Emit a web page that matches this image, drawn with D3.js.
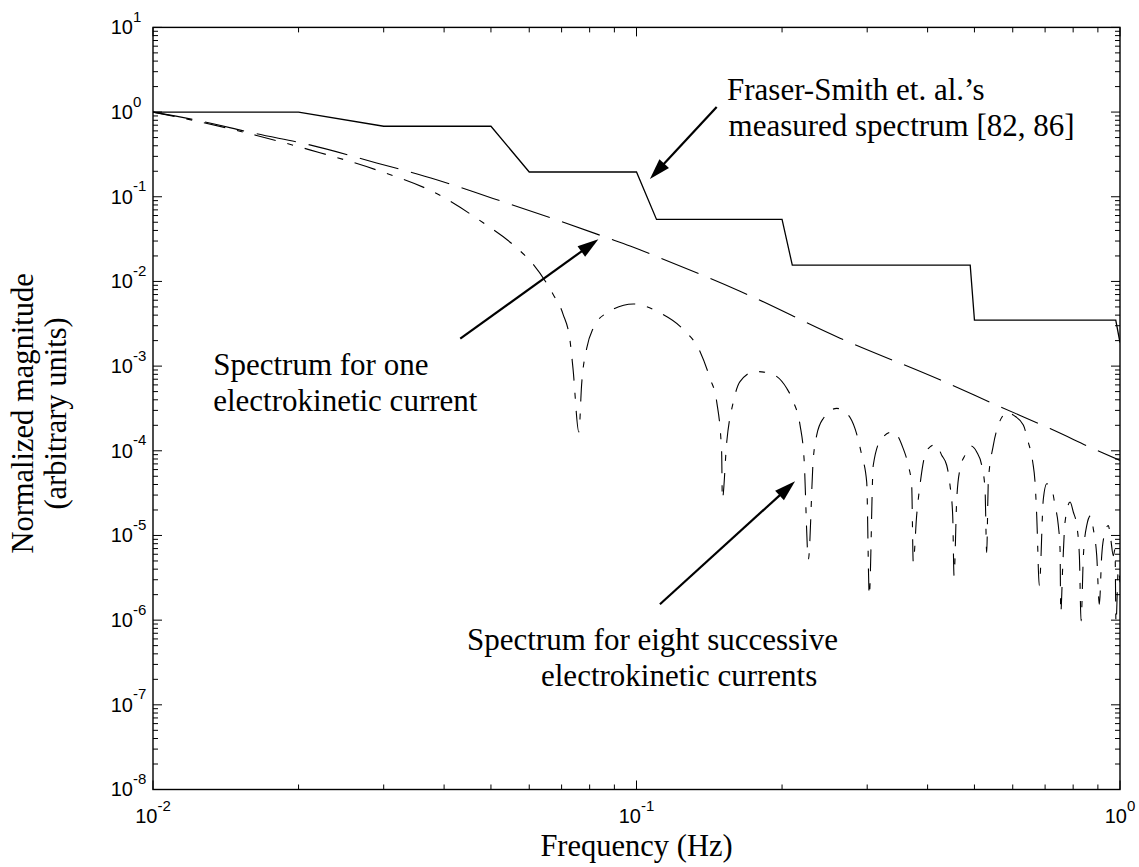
<!DOCTYPE html>
<html>
<head>
<meta charset="utf-8">
<script src="https://cdn.jsdelivr.net/npm/d3@7"></script>
<style>
  html, body { margin: 0; padding: 0; background: #fff; }
  svg { display: block; }
</style>
</head>
<body>
<svg id="chart" width="1139" height="867"></svg>
<script>
// Measured spectrum (stepped envelope)
const fraserFreq = [0.01, 0.02, 0.03, 0.05, 0.06, 0.1, 0.11, 0.2, 0.21, 0.49, 0.5, 0.98, 1.0];
const fraserMag  = [1.0, 1.0, 0.68, 0.68, 0.196, 0.196, 0.054, 0.054, 0.0156, 0.0156, 0.0035, 0.0035, 0.0019];

// Spectrum of a single electrokinetic current
const oneFreq = [0.01, 0.0121, 0.01638, 0.0211, 0.029, 0.0386, 0.0505, 0.0663, 0.0868, 0.097,
                 0.1118, 0.1637, 0.2636, 0.4243, 0.5647, 0.7165, 0.9223, 1.0];
const oneMag  = [1, 0.819, 0.554, 0.41, 0.251, 0.159, 0.0955, 0.0568, 0.0329, 0.0262,
                 0.019, 0.00767, 0.00214, 6.88e-4, 3.32e-4, 1.83e-4, 9.4e-5, 7.7e-5];

// Spectrum of eight successive electrokinetic currents
const eightFreq = [
  0.01, 0.0121, 0.01638, 0.0211, 0.029, 0.0386, 0.0481, 0.0565, 0.0611, 0.0672, 0.0705, 0.0729, 0.0739, 0.076,
  0.077, 0.0789, 0.0814, 0.0868, 0.0985, 0.1118, 0.125, 0.1353, 0.1419, 0.1465, 0.150, 0.1505,
  0.1537, 0.1586, 0.1637, 0.1758, 0.1888, 0.2045, 0.2111, 0.2179, 0.2221, 0.2267,
  0.2321, 0.2359, 0.2434, 0.2595, 0.2743, 0.2831, 0.2923, 0.2993, 0.303,
  0.3088, 0.3214, 0.3397, 0.3562, 0.3648, 0.3708, 0.3736,
  0.3797, 0.3857, 0.395, 0.4046, 0.4164, 0.4278, 0.4381, 0.4451, 0.4508, 0.4537,
  0.4596, 0.4669, 0.478, 0.4912, 0.5054, 0.5176, 0.5258, 0.53,
  0.5341, 0.547, 0.5602, 0.5737, 0.5848, 0.6017, 0.631, 0.6458, 0.6599, 0.6672, 0.6726, 0.681,
  0.6942, 0.7055, 0.7225, 0.7339, 0.7455, 0.7516, 0.7542, 0.7614, 0.7697, 0.7884, 0.8009, 0.8139,
  0.8241, 0.8308, 0.84, 0.8534, 0.8699, 0.8808, 0.8951, 0.9063, 0.9166, 0.9311, 0.9458, 0.9568,
  0.9687, 0.9766, 0.9811, 0.992, 1.0
];
const eightMag = [
  1, 0.80, 0.53, 0.358, 0.207, 0.109, 0.0496, 0.025, 0.016, 0.00706, 0.00409, 0.00196, 9.4e-4, 1.67e-4,
  6.05e-4, 1.63e-3, 2.82e-3, 4.25e-3, 5.42e-3, 4.25e-3, 2.7e-3, 1.49e-3, 7.18e-4, 3.8e-4, 9.7e-5, 2.69e-5,
  1.28e-4, 3.8e-4, 6.56e-4, 8.63e-4, 8.24e-4, 5.47e-4, 3.8e-4, 2.01e-4, 8.08e-5, 5.26e-6,
  8.08e-5, 1.53e-4, 2.41e-4, 3.17e-4, 2.64e-4, 1.83e-4, 8.87e-5, 4.28e-5, 1.94e-6,
  6.75e-5, 1.4e-4, 1.68e-4, 1.06e-4, 6.75e-5, 3.91e-5, 4.81e-6,
  1.72e-5, 3.91e-5, 8.87e-5, 1.11e-4, 1.19e-4, 8.87e-5, 6.75e-5, 3.91e-5, 1.72e-5, 3.34e-6,
  2.71e-5, 6.15e-5, 8.87e-5, 1.14e-4, 9.7e-5, 6.75e-5, 3.56e-5, 6.32e-6,
  4.28e-5, 1.16e-4, 2.01e-4, 2.64e-4, 2.89e-4, 2.64e-4, 2.01e-4, 1.28e-4, 7.38e-5, 4.28e-5, 1.72e-5, 2.55e-6,
  2.71e-5, 4.08e-5, 3.56e-5, 2.26e-5, 1.31e-5, 6.92e-6, 1.23e-6, 4.4e-6, 1.44e-5, 2.48e-5, 1.88e-5, 1.31e-5,
  5.78e-6, 9.8e-7, 5.78e-6, 1.31e-5, 1.72e-5, 1.19e-5, 5.78e-6, 1.54e-6, 5.78e-6, 1.09e-5, 1.31e-5, 9.08e-6,
  5.78e-6, 6.92e-6, 9.3e-7, 4.0e-6, 2.8e-6
];

// Axis tick decades
const xDecades = [-2, -1, 0];
const yDecades = [-8, -7, -6, -5, -4, -3, -2, -1, 0, 1];

const svg = d3.select("#chart");
const plotLeft = 153, plotRight = 1120, plotTop = 27.4, plotBottom = 789.5;

const x = d3.scaleLog().domain([0.01, 1]).range([plotLeft, plotRight]);
const y = d3.scaleLog().domain([1e-8, 10]).range([plotBottom, plotTop]);

// Clip for the plotted curves
svg.append("defs").append("clipPath").attr("id", "plotClip")
  .append("rect").attr("x", plotLeft).attr("y", plotTop)
  .attr("width", plotRight - plotLeft).attr("height", plotBottom - plotTop);

const zip = (fs, ms) => fs.map((f, i) => [f, ms[i]]);
const line = d3.line().x(d => x(d[0])).y(d => y(d[1]));
const smooth = d3.line().x(d => x(d[0])).y(d => y(d[1])).curve(d3.curveMonotoneX);

const plot = svg.append("g").attr("clip-path", "url(#plotClip)");

plot.append("path").datum(zip(fraserFreq, fraserMag))
  .attr("d", line).attr("fill", "none").attr("stroke", "#000").attr("stroke-width", 1.3);

plot.append("path").datum(zip(oneFreq, oneMag))
  .attr("d", smooth).attr("fill", "none").attr("stroke", "#000").attr("stroke-width", 1.1)
  .attr("stroke-dasharray", "40,13");

plot.append("path").datum(zip(eightFreq, eightMag))
  .attr("d", smooth).attr("fill", "none").attr("stroke", "#000").attr("stroke-width", 1.1)
  .attr("stroke-dasharray", "22,12,6,12");

// Frame and ticks on all four sides
const axes = svg.append("g").attr("stroke", "#000").attr("fill", "none");
axes.append("rect").attr("x", plotLeft).attr("y", plotTop)
  .attr("width", plotRight - plotLeft).attr("height", plotBottom - plotTop).attr("stroke-width", 1.4);

const majorLen = 9, minorLen = 5;
const xTicks = [];
xDecades.forEach(d => {
  xTicks.push({ v: Math.pow(10, d), major: true });
  if (d < 0) for (let k = 2; k <= 9; k++) xTicks.push({ v: k * Math.pow(10, d), major: false });
});
const yTicks = [];
yDecades.forEach(d => {
  yTicks.push({ v: Math.pow(10, d), major: true });
  if (d < 1) for (let k = 2; k <= 9; k++) yTicks.push({ v: k * Math.pow(10, d), major: false });
});
xTicks.forEach(t => {
  const px = x(t.v), len = t.major ? majorLen : minorLen;
  axes.append("line").attr("x1", px).attr("x2", px).attr("y1", plotBottom).attr("y2", plotBottom - len).attr("stroke-width", 1);
  axes.append("line").attr("x1", px).attr("x2", px).attr("y1", plotTop).attr("y2", plotTop + len).attr("stroke-width", 1);
});
yTicks.forEach(t => {
  const py = y(t.v), len = t.major ? majorLen : minorLen;
  axes.append("line").attr("x1", plotLeft).attr("x2", plotLeft + len).attr("y1", py).attr("y2", py).attr("stroke-width", 1);
  axes.append("line").attr("x1", plotRight).attr("x2", plotRight - len).attr("y1", py).attr("y2", py).attr("stroke-width", 1);
});

// Tick labels: 10 with a superscript exponent
const tickFont = "'Liberation Sans', Arial, sans-serif";
xDecades.forEach(d => {
  const t = svg.append("text").attr("x", x(Math.pow(10, d))).attr("y", 822.5)
    .attr("text-anchor", "middle").attr("font-family", tickFont).attr("fill", "#000");
  t.append("tspan").attr("font-size", 20).text("10");
  t.append("tspan").attr("font-size", 15).attr("dy", -12).text(String(d));
});
yDecades.forEach(d => {
  const py = y(Math.pow(10, d));
  svg.append("text").attr("x", 133).attr("y", py + 6.8).attr("text-anchor", "end")
    .attr("font-family", tickFont).attr("font-size", 20).attr("fill", "#000").text("10");
  svg.append("text").attr("x", 133).attr("y", py - 5.5).attr("text-anchor", "start")
    .attr("font-family", tickFont).attr("font-size", 15).attr("fill", "#000").text(String(d));
});

// Axis titles
const serif = "'Liberation Serif', 'Times New Roman', serif";
svg.append("text").attr("x", (plotLeft + plotRight) / 2).attr("y", 856)
  .attr("text-anchor", "middle").attr("font-family", serif).attr("font-size", 30.5)
  .attr("fill", "#000").text("Frequency (Hz)");
const yTitle = svg.append("g").attr("transform", "translate(0," + ((plotTop + plotBottom) / 2 + 5) + ") rotate(-90)");
yTitle.append("text").attr("x", 0).attr("y", 33).attr("text-anchor", "middle")
  .attr("font-family", serif).attr("font-size", 30.5).attr("fill", "#000").text("Normalized magnitude");
yTitle.append("text").attr("x", 0).attr("y", 66).attr("text-anchor", "middle")
  .attr("font-family", serif).attr("font-size", 30.5).attr("fill", "#000").text("(arbitrary units)");

// Annotations: arrows from text to curves (data coordinates)
const arrows = [
  { from: [0.1465, 1.146], to: [0.1066, 0.162] },
  { from: [0.0432, 0.00211], to: [0.0834, 0.0315] },
  { from: [0.1118, 1.54e-6], to: [0.2128, 4.36e-5] }
];
const headLen = 21, headHalf = 6.5;
arrows.forEach(a => {
  const x1 = x(a.from[0]), y1 = y(a.from[1]), x2 = x(a.to[0]), y2 = y(a.to[1]);
  const dx = x2 - x1, dy = y2 - y1, L = Math.hypot(dx, dy);
  const ux = dx / L, uy = dy / L;
  const bx = x2 - ux * headLen, by = y2 - uy * headLen;
  svg.append("line").attr("x1", x1).attr("y1", y1).attr("x2", bx + ux * 2).attr("y2", by + uy * 2)
    .attr("stroke", "#000").attr("stroke-width", 2.2);
  svg.append("path")
    .attr("d", `M${x2},${y2}L${bx - uy * headHalf},${by + ux * headHalf}L${bx + uy * headHalf},${by - ux * headHalf}Z`)
    .attr("fill", "#000");
});

const notes = [
  { at: [0.1539, 1.40], lines: ["Fraser-Smith et. al.\u2019s", "measured spectrum [82, 86]"], dx: [0, 1.5] },
  { at: [0.01332, 7.94e-4], lines: ["Spectrum for one", "electrokinetic current"], dx: [0, 0] },
  { at: [0.04461, 4.47e-7], lines: ["Spectrum for eight successive", "electrokinetic currents"], dx: [0, 74] }
];
notes.forEach(n => {
  n.lines.forEach((s, i) => {
    svg.append("text").attr("x", x(n.at[0]) + n.dx[i]).attr("y", y(n.at[1]) + i * 36)
      .attr("font-family", serif).attr("font-size", 31).attr("fill", "#000").text(s);
  });
});
</script>
</body>
</html>
